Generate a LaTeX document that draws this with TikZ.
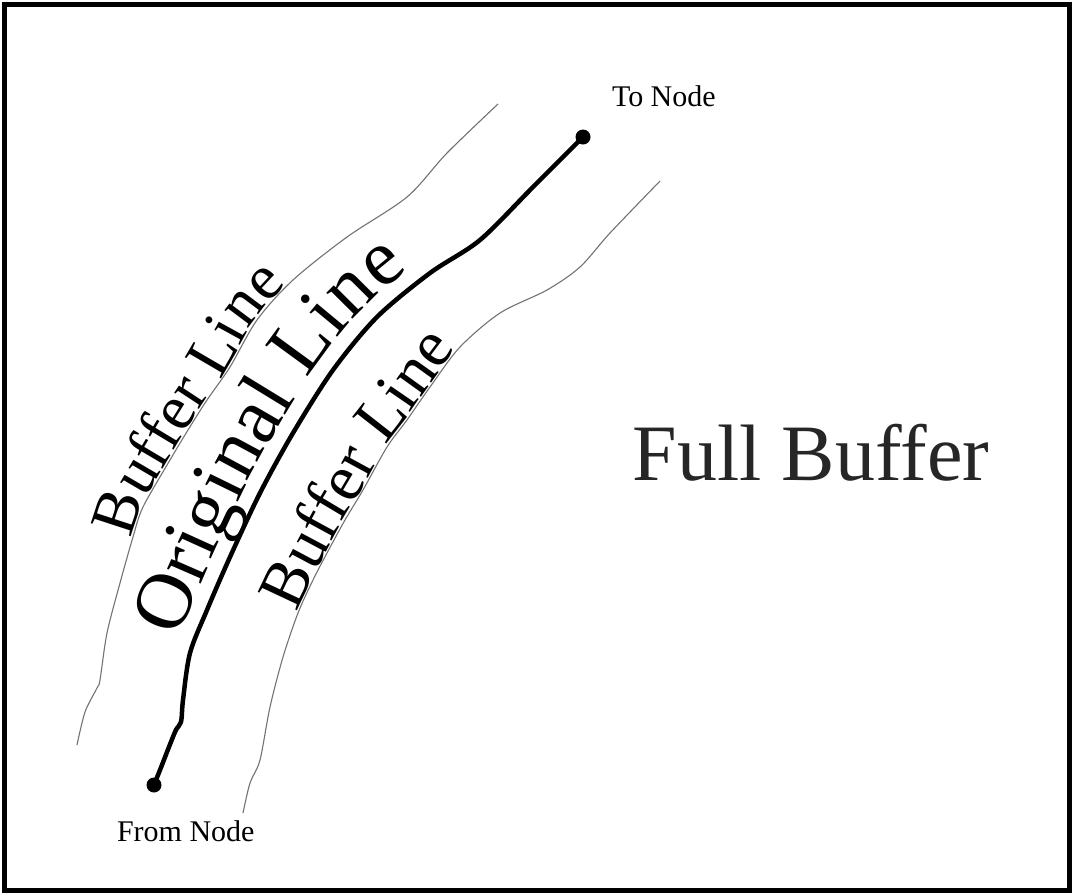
\documentclass[tikz,border=0pt]{standalone}
\usepackage{fontspec}
\setmainfont{Liberation Serif}
\usetikzlibrary{decorations.text}
\begin{document}
\begin{tikzpicture}[x=1pt,y=-1pt,
  dot/.style={circle,fill=black,inner sep=0pt,minimum size=15pt},
  orig/.style={line width=4.5pt,line cap=round,line join=round},
  buf/.style={line width=1.1pt,draw=black!55,line join=round},
  lbl/.style={inner sep=0pt,outer sep=0pt,anchor=base west}]
\useasboundingbox (0,0) rectangle (1074,895);
\fill[white] (0,0) rectangle (1074,895);
\draw[line width=5.5pt] (4.5,4.5) rectangle (1069.5,890.5);

% nodes
\node[dot] (from) at (154,785) {};
\node[dot] (to) at (583,137) {};

% original line
\draw[orig] plot[smooth,tension=0.5] coordinates {(from.center) (160,770) (175,732) (181,722) (183,700) (190,653) (207,610) (230,557) (260,493) (293,433) (333,370) (377,317) (430,273) (480,240) (533,187) (to.center)};
\path[decorate,decoration={text along path,raise=16pt,text align={left indent=147pt},
  text={|\fontsize{80}{80}\selectfont|Original Line}}]
  plot[smooth,tension=0.5] coordinates {(from.center) (160,770) (175,732) (181,722) (183,700) (190,653) (207,610) (230,557) (260,493) (293,433) (333,370) (377,317) (430,273) (480,240) (533,187) (to.center)};

% left buffer line
\draw[buf] plot[smooth,tension=0.5] coordinates {(77,745) (85,712) (97,688) (100,680) (107,633) (120,583) (133,537) (143,507) (170,460) (188,430) (207,400) (230,367) (257,320) (293,280) (347,237) (407,197) (447,153) (498,104)};
\path[decorate,decoration={text along path,raise=1.5pt,text align={left indent=214pt},
  text={|\fontsize{64}{64}\selectfont|Buffer Line}}]
  plot[smooth,tension=0.5] coordinates {(77,745) (85,712) (97,688) (100,680) (107,633) (120,583) (133,537) (143,507) (170,460) (188,430) (207,400) (230,367) (257,320) (293,280) (347,237) (407,197) (447,153) (498,104)};

% right buffer line
\draw[buf] plot[smooth,tension=0.5] coordinates {(243,813) (250,783) (260,760) (270,707) (283,657) (298,613) (313,580) (327,553) (345,520) (363,490) (387,447) (407,420) (430,387) (460,347) (500,313) (547,290) (580,267) (610,233) (660,181)};
\path[decorate,decoration={text along path,raise=1.5pt,text align={left indent=208pt},
  text={|\fontsize{66}{66}\selectfont|Buffer Line}}]
  plot[smooth,tension=0.5] coordinates {(243,813) (250,783) (260,760) (270,707) (283,657) (298,613) (313,580) (327,553) (345,520) (363,490) (387,447) (407,420) (430,387) (460,347) (500,313) (547,290) (580,267) (610,233) (660,181)};

% labels
\node[inner sep=0pt,anchor=base,text=black!85] (fb) at (811,480) {\fontsize{80}{80}\selectfont Full Buffer};
\node[lbl] (tolbl) at (612,106) {\fontsize{30}{30}\selectfont To Node};
\node[lbl] (fromlbl) at (117,841) {\fontsize{30}{30}\selectfont From Node};
\end{tikzpicture}
\end{document}
